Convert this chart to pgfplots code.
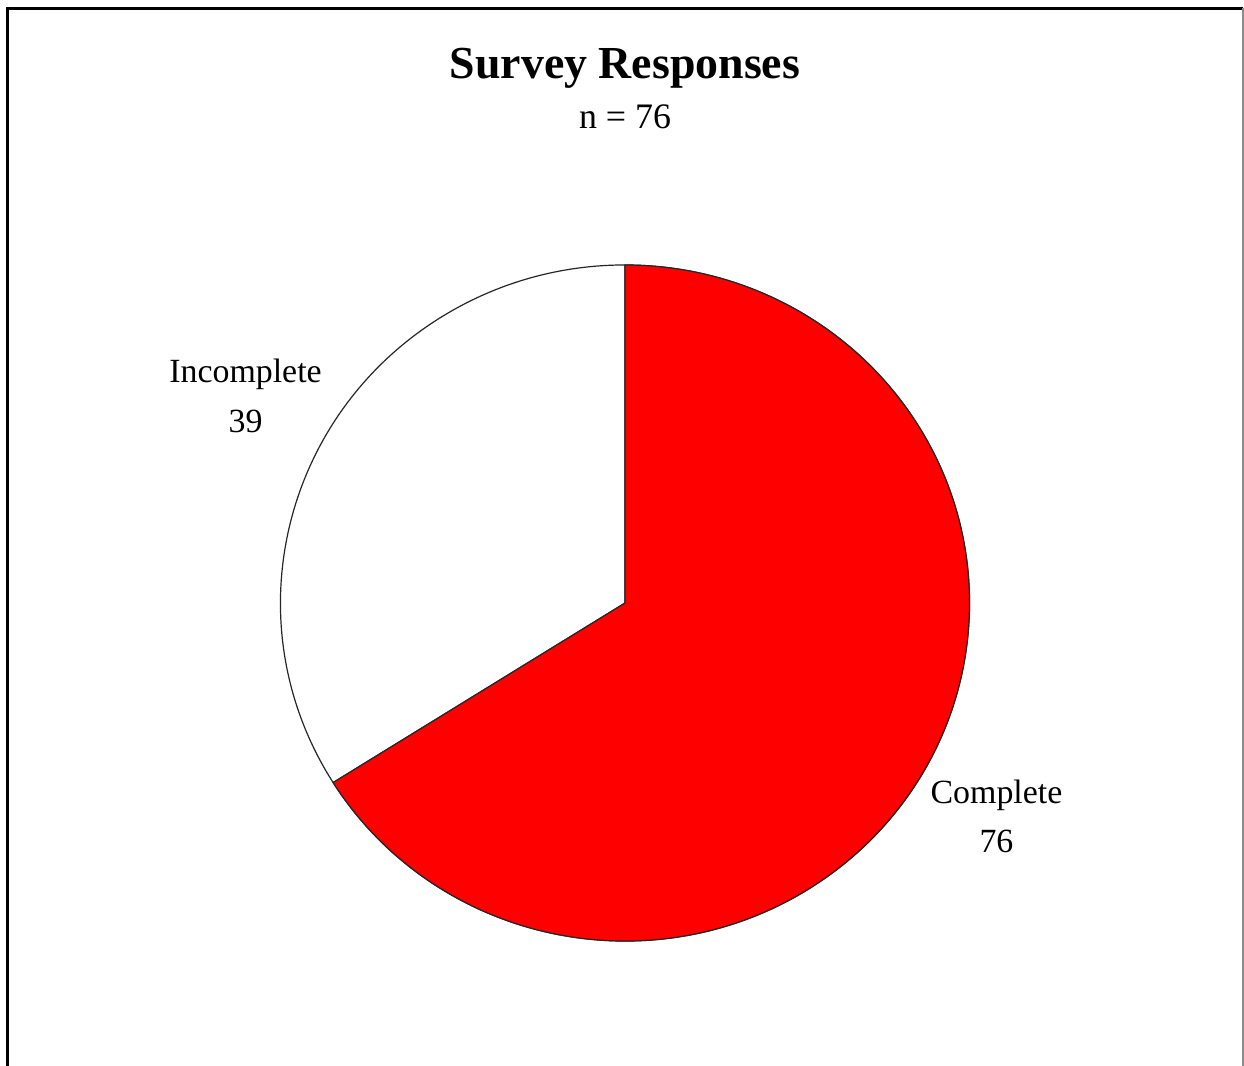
\documentclass[border=0pt]{standalone}
\usepackage{fontspec}
\setmainfont{Liberation Serif}
\usepackage{pgfplots}
\usepackage{pgfplotstable}
\pgfplotsset{compat=1.18}

% survey response counts
\pgfplotstableread{
label count
Complete 76
Incomplete 39
}\responses

\definecolor{pieRed}{RGB}{255,0,0}

\begin{document}
\begin{tikzpicture}
\pgfplotstablegetelem{0}{count}\of\responses \let\nComplete\pgfplotsretval
\pgfplotstablegetelem{1}{count}\of\responses \let\nIncomplete\pgfplotsretval
\pgfmathsetmacro\total{\nComplete+\nIncomplete}
% Complete runs clockwise from 12 o'clock, Incomplete fills the rest
\pgfmathsetmacro\share{\nComplete/\total}
\pgfmathsetmacro\split{90-360*\share}
\pgfmathsetmacro\midC{(90+\split)/2}
\pgfmathsetmacro\midI{(\split+450)/2}
\pgfmathsetmacro\cx{625}
\pgfmathsetmacro\cy{463}
\pgfmathsetmacro\labR{428}
\pgfmathsetmacro\lCx{\cx+\labR*cos(\midC)}
\pgfmathsetmacro\lCy{\cy+\labR*sin(\midC)}
\pgfmathsetmacro\lIx{\cx+\labR*cos(\midI)}
\pgfmathsetmacro\lIy{\cy+\labR*sin(\midI)}
\begin{axis}[
  x=0.5bp, y=0.5bp,
  xmin=0, xmax=1244, ymin=0, ymax=1066,
  hide axis, clip=false,
]
% frame
\draw[line width=1.5bp, black] (axis cs:8,0) -- (axis cs:8,1058) -- (axis cs:1243,1058);
\draw[line width=0.6bp, black!45] (axis cs:1243,1058) -- (axis cs:1243,0);

% wedges
\filldraw[fill=white, draw=black!85, line width=0.6bp]
  (axis cs:\cx,\cy) -- +(\split:172.25bp and 169bp)
  arc[start angle=\split, end angle=450, x radius=172.25bp, y radius=169bp] -- cycle;
\filldraw[fill=pieRed, draw=black!85, line width=0.6bp]
  (axis cs:\cx,\cy) -- +(90:172.25bp and 169bp)
  arc[start angle=90, end angle=\split, x radius=172.25bp, y radius=169bp] -- cycle;

% titles
\node[anchor=base, font=\fontsize{23}{28}\selectfont\bfseries] at (axis cs:625,988) {Survey Responses};
\node[anchor=base, font=\fontsize{18}{22}\selectfont] at (axis cs:625,938) {n = \nComplete};

% slice labels
\node[align=center, font=\fontsize{17}{25}\selectfont, xshift=-2.5bp] at (axis cs:\lIx,\lIy) {Incomplete\\\nIncomplete};
\node[align=center, font=\fontsize{17}{24.5}\selectfont, xshift=-1.5bp, yshift=-3bp] at (axis cs:\lCx,\lCy) {Complete\\\nComplete};
\end{axis}
\pgfresetboundingbox
\path (0,0) rectangle (622bp,533bp);
\end{tikzpicture}
\end{document}
